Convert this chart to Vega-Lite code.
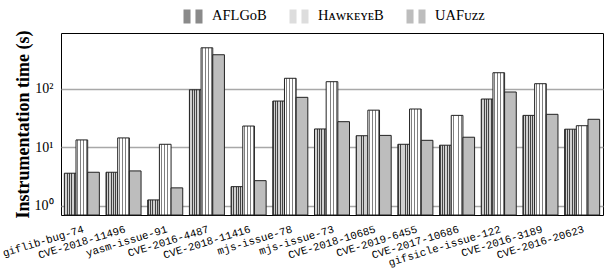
{
  "$schema": "https://vega.github.io/schema/vega-lite/v6.json",
  "width": 542,
  "height": 182,
  "autosize": {"type": "none"},
  "padding": {"left": 61, "top": 33, "right": 10, "bottom": 57},
  "background": "white",
  "config": {"view": {"stroke": "black", "strokeWidth": 1}, "font": "Liberation Serif"},
  "data": {
    "values": [
      {"bug": "giflib-bug-74", "tool": "AFLGoB", "time": 3.58},
      {"bug": "giflib-bug-74", "tool": "HawkeyeB", "time": 13.3},
      {"bug": "giflib-bug-74", "tool": "UAFuzz", "time": 3.72},
      {"bug": "CVE-2018-11496", "tool": "AFLGoB", "time": 3.72},
      {"bug": "CVE-2018-11496", "tool": "HawkeyeB", "time": 14.4},
      {"bug": "CVE-2018-11496", "tool": "UAFuzz", "time": 3.92},
      {"bug": "yasm-issue-91", "tool": "AFLGoB", "time": 1.25},
      {"bug": "yasm-issue-91", "tool": "HawkeyeB", "time": 11.2},
      {"bug": "yasm-issue-91", "tool": "UAFuzz", "time": 2.01},
      {"bug": "CVE-2016-4487", "tool": "AFLGoB", "time": 96},
      {"bug": "CVE-2016-4487", "tool": "HawkeyeB", "time": 502},
      {"bug": "CVE-2016-4487", "tool": "UAFuzz", "time": 382},
      {"bug": "CVE-2018-11416", "tool": "AFLGoB", "time": 2.11},
      {"bug": "CVE-2018-11416", "tool": "HawkeyeB", "time": 23},
      {"bug": "CVE-2018-11416", "tool": "UAFuzz", "time": 2.67},
      {"bug": "mjs-issue-78", "tool": "AFLGoB", "time": 61.6},
      {"bug": "mjs-issue-78", "tool": "HawkeyeB", "time": 151},
      {"bug": "mjs-issue-78", "tool": "UAFuzz", "time": 71.3},
      {"bug": "mjs-issue-73", "tool": "AFLGoB", "time": 20.5},
      {"bug": "mjs-issue-73", "tool": "HawkeyeB", "time": 132},
      {"bug": "mjs-issue-73", "tool": "UAFuzz", "time": 27.3},
      {"bug": "CVE-2018-10685", "tool": "AFLGoB", "time": 15.7},
      {"bug": "CVE-2018-10685", "tool": "HawkeyeB", "time": 43},
      {"bug": "CVE-2018-10685", "tool": "UAFuzz", "time": 15.9},
      {"bug": "CVE-2019-6455", "tool": "AFLGoB", "time": 11.2},
      {"bug": "CVE-2019-6455", "tool": "HawkeyeB", "time": 45},
      {"bug": "CVE-2019-6455", "tool": "UAFuzz", "time": 13.1},
      {"bug": "CVE-2017-10686", "tool": "AFLGoB", "time": 10.8},
      {"bug": "CVE-2017-10686", "tool": "HawkeyeB", "time": 35},
      {"bug": "CVE-2017-10686", "tool": "UAFuzz", "time": 14.8},
      {"bug": "gifsicle-issue-122", "tool": "AFLGoB", "time": 66.7},
      {"bug": "gifsicle-issue-122", "tool": "HawkeyeB", "time": 188},
      {"bug": "gifsicle-issue-122", "tool": "UAFuzz", "time": 88},
      {"bug": "CVE-2016-3189", "tool": "AFLGoB", "time": 35},
      {"bug": "CVE-2016-3189", "tool": "HawkeyeB", "time": 122},
      {"bug": "CVE-2016-3189", "tool": "UAFuzz", "time": 36.5},
      {"bug": "CVE-2016-20623", "tool": "AFLGoB", "time": 20.3},
      {"bug": "CVE-2016-20623", "tool": "HawkeyeB", "time": 23.3},
      {"bug": "CVE-2016-20623", "tool": "UAFuzz", "time": 30}
    ]
  },
  "mark": {"type": "bar", "stroke": "#222", "strokeWidth": 1},
  "encoding": {
    "x": {
      "field": "bug",
      "type": "nominal",
      "sort": null,
      "scale": {"paddingInner": 0.16, "paddingOuter": 0.08},
      "axis": {
        "title": null,
        "labelAngle": -17,
        "labelAlign": "right",
        "labelBaseline": "top",
        "labelFont": "Liberation Mono",
        "labelFontSize": 10.8,
        "labelColor": "black",
        "ticks": false,
        "domain": false,
        "labelPadding": 8
      }
    },
    "xOffset": {
      "field": "tool",
      "type": "nominal",
      "sort": ["AFLGoB", "HawkeyeB", "UAFuzz"],
      "scale": {"paddingInner": 0, "paddingOuter": 0}
    },
    "y": {
      "field": "time",
      "type": "quantitative",
      "scale": {"type": "log", "domain": [0.69, 900], "nice": false, "zero": false},
      "axis": {
        "title": "Instrumentation time (s)",
        "values": [1, 10, 100],
        "labelExpr": "datum.value == 1 ? '10⁰' : datum.value == 10 ? '10¹' : '10²'",
        "grid": true,
        "gridColor": "#a8a8a8",
        "gridWidth": 1.3,
        "ticks": false,
        "domain": false,
        "labelFont": "Liberation Serif",
        "labelFontSize": 14,
        "labelColor": "black",
        "labelPadding": 8,
        "titlePadding": 2,
        "titleFont": "Liberation Serif",
        "titleFontSize": 18,
        "titleFontWeight": "bold",
        "titleColor": "black"
      }
    },
    "y2": {"datum": 0.69},
    "fill": {
      "field": "tool",
      "type": "nominal",
      "scale": {
        "domain": ["AFLGoB", "HawkeyeB", "UAFuzz"],
        "range": ["#8a8a8a", "#dddddd", "#bdbdbd"]
      },
      "condition": [
        {"test": "datum.tool == 'AFLGoB'", "value": {"gradient": "linear", "x1": 0, "y1": 0, "x2": 1, "y2": 0, "stops": [
            {"offset": 0, "color": "#444"}, {"offset": 0.08, "color": "#444"},
            {"offset": 0.08, "color": "#d0d0d0"}, {"offset": 0.2, "color": "#d0d0d0"},
            {"offset": 0.2, "color": "#444"}, {"offset": 0.28, "color": "#444"},
            {"offset": 0.28, "color": "#d0d0d0"}, {"offset": 0.4, "color": "#d0d0d0"},
            {"offset": 0.4, "color": "#444"}, {"offset": 0.48, "color": "#444"},
            {"offset": 0.48, "color": "#d0d0d0"}, {"offset": 0.6, "color": "#d0d0d0"},
            {"offset": 0.6, "color": "#444"}, {"offset": 0.68, "color": "#444"},
            {"offset": 0.68, "color": "#d0d0d0"}, {"offset": 0.8, "color": "#d0d0d0"},
            {"offset": 0.8, "color": "#444"}, {"offset": 0.88, "color": "#444"},
            {"offset": 0.88, "color": "#d0d0d0"}, {"offset": 1, "color": "#d0d0d0"}
        ]}},
        {"test": "datum.tool == 'HawkeyeB'", "value": {"gradient": "linear", "x1": 0, "y1": 0, "x2": 1, "y2": 0, "stops": [
            {"offset": 0, "color": "#ffffff"}, {"offset": 0.12, "color": "#ffffff"},
            {"offset": 0.12, "color": "#808080"}, {"offset": 0.2, "color": "#808080"},
            {"offset": 0.2, "color": "#ffffff"}, {"offset": 0.37, "color": "#ffffff"},
            {"offset": 0.37, "color": "#808080"}, {"offset": 0.45, "color": "#808080"},
            {"offset": 0.45, "color": "#ffffff"}, {"offset": 0.62, "color": "#ffffff"},
            {"offset": 0.62, "color": "#808080"}, {"offset": 0.7, "color": "#808080"},
            {"offset": 0.7, "color": "#ffffff"}, {"offset": 0.87, "color": "#ffffff"},
            {"offset": 0.87, "color": "#808080"}, {"offset": 0.95, "color": "#808080"},
            {"offset": 0.95, "color": "#ffffff"}, {"offset": 1, "color": "#ffffff"}
        ]}}
      ],
      "legend": {
        "title": null,
        "orient": "none",
        "legendX": 122,
        "legendY": -27,
        "direction": "horizontal",
        "symbolType": "M-1,-0.74H-0.26V0.74H-1Z M0.26,-0.74H1V0.74H0.26Z",
        "symbolSize": 361,
        "symbolStrokeColor": "#222",
        "symbolStrokeWidth": 1,
        "labelExpr": "datum.label == 'AFLGoB' ? 'AFLGᴏB' : datum.label == 'HawkeyeB' ? 'HᴀᴡᴋᴇʏᴇB' : 'UAFᴜᴢᴢ'",
        "labelFont": "Liberation Serif",
        "labelFontSize": 14.5,
        "labelColor": "black",
        "labelOffset": 9,
        "columnPadding": 20,
        "encode": {
          "symbols": {
            "update": {
              "fill": {"signal": "datum.value == 'AFLGoB' ? {gradient: 'linear', x1: 0, y1: 0, x2: 1, y2: 0, stops: [{offset: 0, color: '#444'}, {offset: 0.12, color: '#444'}, {offset: 0.12, color: '#d0d0d0'}, {offset: 0.25, color: '#d0d0d0'}, {offset: 0.25, color: '#444'}, {offset: 0.37, color: '#444'}, {offset: 0.37, color: '#ffffff'}, {offset: 0.63, color: '#ffffff'}, {offset: 0.63, color: '#444'}, {offset: 0.75, color: '#444'}, {offset: 0.75, color: '#d0d0d0'}, {offset: 0.87, color: '#d0d0d0'}, {offset: 0.87, color: '#444'}, {offset: 1, color: '#444'}]} : datum.value == 'HawkeyeB' ? {gradient: 'linear', x1: 0, y1: 0, x2: 1, y2: 0, stops: [{offset: 0, color: '#fff'}, {offset: 0.15, color: '#fff'}, {offset: 0.15, color: '#808080'}, {offset: 0.22, color: '#808080'}, {offset: 0.22, color: '#fff'}, {offset: 0.78, color: '#fff'}, {offset: 0.78, color: '#808080'}, {offset: 0.85, color: '#808080'}, {offset: 0.85, color: '#fff'}, {offset: 1, color: '#fff'}]} : '#bdbdbd'"}
            }
          }
        }
      }
    }
  }
}
